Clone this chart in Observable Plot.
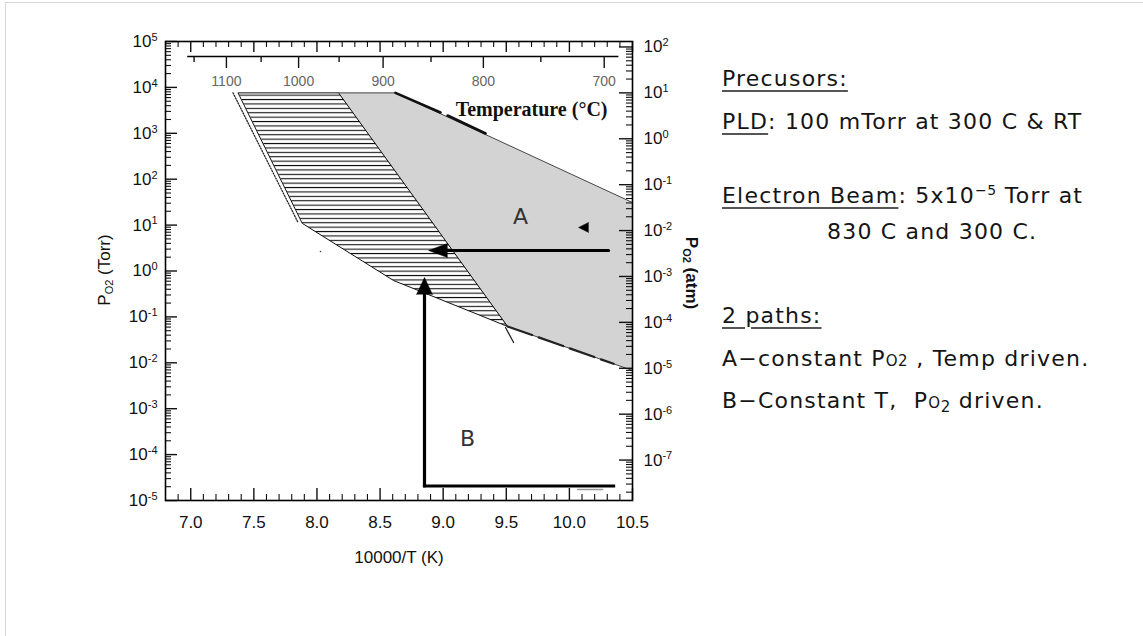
<!DOCTYPE html>
<html><head><meta charset="utf-8">
<script src="https://cdn.jsdelivr.net/npm/d3@7"></script>
<script src="https://cdn.jsdelivr.net/npm/@observablehq/plot@0.6"></script>
<style>
body{margin:0;background:#fff;}
#wrap{position:relative;width:1143px;height:636px;overflow:hidden;font-family:"Liberation Sans",Arial,sans-serif;}
#chart{position:absolute;left:0;top:0;}
.border{position:absolute;left:5px;top:2px;width:1140px;height:640px;border-left:1px solid #d6d6d6;border-top:1px solid #d6d6d6;}
.ttl{position:absolute;white-space:nowrap;font-size:17px;color:#111;line-height:1;}
.ttl sub{font-size:11px;vertical-align:-3px;}
.note{position:absolute;left:722px;font-family:"DejaVu Sans",sans-serif;font-size:22px;letter-spacing:1.2px;color:#151515;white-space:nowrap;line-height:22px;}
.u{text-decoration:underline;text-decoration-color:#555;text-decoration-thickness:1.5px;text-underline-offset:4px;}
.sm{font-size:15px;letter-spacing:0.5px;}
.sb{font-size:15px;vertical-align:-4px;letter-spacing:0.5px;}
.sp{font-size:14px;vertical-align:8px;letter-spacing:0.5px;}
</style></head>
<body><div id="wrap"><div class="border"></div><div id="chart"></div>
<div class="ttl" style="left:105px;top:270px;transform:translate(-50%,-50%) rotate(-90deg);">P<sub>O2</sub> (Torr)</div>
<div class="ttl" style="left:690px;top:273px;font-weight:bold;transform:translate(-50%,-50%) rotate(90deg);">P<sub>O2</sub> (atm)</div>
<div class="note" style="top:68px;"><span class="u">Precusors:</span></div>
<div class="note" style="top:111px;"><span class="u">PLD</span>: 100 mTorr at 300 C &amp; RT</div>
<div class="note" style="top:179px;"><span class="u">Electron Beam</span>: 5x10<span class="sp">−5</span> Torr at</div>
<div class="note" style="top:221px;left:827px;">830 C and 300 C.</div>
<div class="note" style="top:305px;"><span class="u">2 paths:</span></div>
<div class="note" style="top:348px;">A−constant P<span class="sm">O2</span> , Temp driven.</div>
<div class="note" style="top:390px;">B−Constant T,&nbsp; P<span class="sm">O</span><span class="sb">2</span> driven.</div>
</div>
<script>
// ---- data ----
const xMajor = [7.0, 7.5, 8.0, 8.5, 9.0, 9.5, 10.0, 10.5];
const torrExp = [-5, -4, -3, -2, -1, 0, 1, 2, 3, 4, 5];
const atmExp = [-7, -6, -5, -4, -3, -2, -1, 0, 1, 2];
const tempMajor = [1100, 1000, 900, 800, 700];
const tempMinor = [1150, 1050, 950, 850, 750];
const tempAxisRange = [1160, 690];

// hatched window (Torr vs 10000/T)
const hatchX = [7.378, 8.171, 9.51, 8.607, 7.886];
const hatchY = [7600, 7600, 0.062, 0.62, 10.8];
// grey window
const greyX = [8.171, 8.622, 10.5, 10.5, 9.51];
const greyY = [7600, 7600, 31, 0.0068, 0.062];
// dotted boundary on the left
const dotX = [7.335, 7.85];
const dotY = [7600, 11.4];
// heavy dashes along upper grey edge
const dashTopX = [[8.622, 8.979], [9.035, 9.336]];
const dashTopY = [[7600, 2840], [2440, 991]];
// heavy dashed lower grey edge
const dashLowX = [9.51, 10.35];
const dashLowY = [0.062, 0.0095];
const slashX = [9.494, 9.558];
const slashY = [0.0588, 0.0277];
// path A
const pathAX = [10.31, 8.884];
const pathAY = [2.8, 2.8];
// path B
const pathBX = [10.35, 8.852, 8.852];
const pathBY = [2.07e-5, 2.07e-5, 0.72];
const greyDashX = [10.065, 10.263];
const greyDashY = [1.74e-5, 1.74e-5];
const smallTri = {x: 10.073, y: 8.9};
const speck = {x: 8.028, y: 2.66};
const labels = [{x: 9.613, y: 14.7, t: "A"}, {x: 9.193, y: 2.24e-4, t: "B"}];

// ---- helpers ----
const W = 720, H = 600, ML = 165, MR = 88, MT = 41, MB = 100;
const FW = W - ML - MR, FH = H - MT - MB;
const XD = [6.8, 10.5];
const invT = T => 10000 / (T + 273.15);
const torrMajor = torrExp.map(e => Math.pow(10, e));
const torrMinor = [];
torrExp.forEach(e => { for (let m = 2; m <= 9; m++) { const v = m * Math.pow(10, e); if (v < 1e5) torrMinor.push(v); } });
const atmMajorT = atmExp.map(e => 760 * Math.pow(10, e));
const atmMinorT = [];
[-8, ...atmExp].forEach(e => { for (let m = 2; m <= 9; m++) { const v = 760 * m * Math.pow(10, e); if (v > 1e-5 && v < 1e5) atmMinorT.push(v); } });
const xMinor = d3.range(69, 105).map(d => d / 10).filter(d => Math.round(d * 10) % 5 !== 0);
const pts = (xs, ys) => xs.map((x, i) => ({x, y: ys[i]}));
const tempInsetL = (invT(tempAxisRange[0]) - XD[0]) / (XD[1] - XD[0]) * FW;
const tempInsetR = (XD[1] - invT(tempAxisRange[1])) / (XD[1] - XD[0]) * FW;

const chart = Plot.plot({
  width: W, height: H,
  marginLeft: ML, marginRight: MR, marginTop: MT, marginBottom: MB,
  style: {fontFamily: "'Liberation Sans', Arial, sans-serif", fontSize: "17px", color: "#111", background: "transparent"},
  x: {domain: XD},
  y: {type: "log", domain: [1e-5, 1e5]},
  marks: [
    Plot.line(pts(greyX, greyY), {x: "x", y: "y", curve: "linear-closed", fill: "#d3d3d3", stroke: "#333", strokeWidth: 0.9}),
    Plot.line(pts(hatchX, hatchY), {x: "x", y: "y", curve: "linear-closed", fill: "url(#hatch)", stroke: "#111", strokeWidth: 1}),
    Plot.line(pts(dotX, dotY), {x: "x", y: "y", stroke: "#222", strokeWidth: 1.3, strokeDasharray: "1.2,1.6"}),
    ...dashTopX.map((xs, i) => Plot.line(pts(xs, dashTopY[i]), {x: "x", y: "y", stroke: "#111", strokeWidth: 2.6})),
    Plot.line(pts(dashLowX, dashLowY), {x: "x", y: "y", stroke: "#222", strokeWidth: 2.2, strokeDasharray: "26,7"}),
    Plot.line(pts(slashX, slashY), {x: "x", y: "y", stroke: "#222", strokeWidth: 1.3}),
    // path A
    Plot.arrow([0], {x1: pathAX[0], y1: pathAY[0], x2: pathAX[1], y2: pathAY[1], insetEnd: 12, headLength: 0, stroke: "#000", strokeWidth: 3.2}),
    Plot.vector([0], {x: pathAX[1], y: pathAY[1], rotate: -90, length: 19, r: 7, anchor: "end", shape: "spike", fill: "#000", stroke: "#000", strokeWidth: 0.5}),
    // path B
    Plot.line(pts(pathBX.slice(0, 2), pathBY.slice(0, 2)), {x: "x", y: "y", stroke: "#000", strokeWidth: 3.2, strokeLinecap: "square"}),
    Plot.arrow([0], {x1: pathBX[1], y1: pathBY[1], x2: pathBX[2], y2: pathBY[2], insetEnd: 12, headLength: 0, stroke: "#000", strokeWidth: 3.2}),
    Plot.vector([0], {x: pathBX[2], y: pathBY[2], rotate: 0, length: 17, r: 8, anchor: "end", shape: "spike", fill: "#000", stroke: "#000", strokeWidth: 0.5}),
    Plot.line(pts(greyDashX, greyDashY), {x: "x", y: "y", stroke: "#999", strokeWidth: 1.6}),
    Plot.vector([smallTri], {x: "x", y: "y", rotate: -90, length: 10, r: 5, anchor: "end", shape: "spike", fill: "#000", stroke: "#000", strokeWidth: 0.5}),
    Plot.dot([speck], {x: "x", y: "y", r: 0.8, fill: "#444", stroke: "none"}),
    Plot.text(labels, {x: "x", y: "y", text: "t", fontSize: 22, fill: "#333", fontFamily: "'DejaVu Sans', sans-serif"}),
    // frame ticks
    Plot.tickY(torrMajor, {y: d => d, insetRight: FW - 12, strokeWidth: 1.4}),
    Plot.tickY(torrMinor, {y: d => d, insetRight: FW - 6, strokeWidth: 1.1}),
    Plot.tickY(atmMajorT, {y: d => d, insetLeft: FW - 13, strokeWidth: 1.4}),
    Plot.tickY(atmMinorT, {y: d => d, insetLeft: FW - 6, strokeWidth: 1.1}),
    Plot.tickX(xMajor, {x: d => d, insetTop: FH - 12, strokeWidth: 1.4}),
    Plot.tickX(xMinor, {x: d => d, insetTop: FH - 6, strokeWidth: 1.1}),
    Plot.tickX(xMajor, {x: d => d, insetBottom: FH - 11, strokeWidth: 1.4}),
    Plot.tickX(xMinor, {x: d => d, insetBottom: FH - 6, strokeWidth: 1.1}),
    // temperature axis (top, inside the frame)
    Plot.frame({anchor: "top", dy: 15, insetLeft: tempInsetL, insetRight: tempInsetR, stroke: "#000", strokeWidth: 1.4}),
    Plot.tickX(tempMajor, {x: invT, insetTop: 15, insetBottom: FH - 15 - 12, strokeWidth: 1.4}),
    Plot.tickX(tempMinor, {x: invT, insetTop: 15, insetBottom: FH - 15 - 6, strokeWidth: 1.4}),
    Plot.text(tempMajor, {x: invT, text: d => String(d), frameAnchor: "top", dy: 35, fontSize: 14, fill: "#666"}),
    Plot.text(["Temperature (\u00B0C)"], {frameAnchor: "top-right", dx: -25, dy: 60, textAnchor: "end", fontSize: 20, fontWeight: "bold", fontFamily: "'Liberation Serif', 'Times New Roman', serif", fill: "#111"}),
    // axes
    Plot.axisX(xMajor, {anchor: "bottom", label: null, tickSize: 0, tickPadding: 15, tickFormat: d3.format(".1f"), fontSize: 17}),
    Plot.text(["10000/T (K)"], {frameAnchor: "bottom", dy: 62, fontSize: 17, fill: "#111"}),
    Plot.axisY(torrMajor, {anchor: "left", label: null, tickSize: 0, tickPadding: 8, tickFormat: d => "10^" + Math.round(Math.log10(d)), fontSize: 17}),
    Plot.axisY(atmMajorT, {anchor: "right", label: null, tickSize: 0, tickPadding: 11, tickFormat: d => "10^" + Math.round(Math.log10(d / 760)), fontSize: 17}),
    Plot.frame({stroke: "#000", strokeWidth: 1.6})
  ]
});

// hatch pattern definition
const ns = "http://www.w3.org/2000/svg";
const defs = document.createElementNS(ns, "defs");
defs.innerHTML = '<pattern id="hatch" patternUnits="userSpaceOnUse" width="10" height="4.4"><rect width="10" height="4.4" fill="#fff"/><rect y="1.7" width="10" height="1.1" fill="#111"/></pattern>';
chart.insertBefore(defs, chart.firstChild);

// superscript exponents on log axes
chart.querySelectorAll('g[aria-label="y-axis tick label"] text').forEach(t => {
  const m = t.textContent.match(/^10\^(-?\d+)$/);
  if (!m) return;
  t.textContent = "10";
  const ts = document.createElementNS(ns, "tspan");
  ts.setAttribute("dy", "-0.55em");
  ts.setAttribute("font-size", "11");
  ts.textContent = m[1];
  t.appendChild(ts);
});
document.getElementById("chart").appendChild(chart);
</script>
</body></html>
